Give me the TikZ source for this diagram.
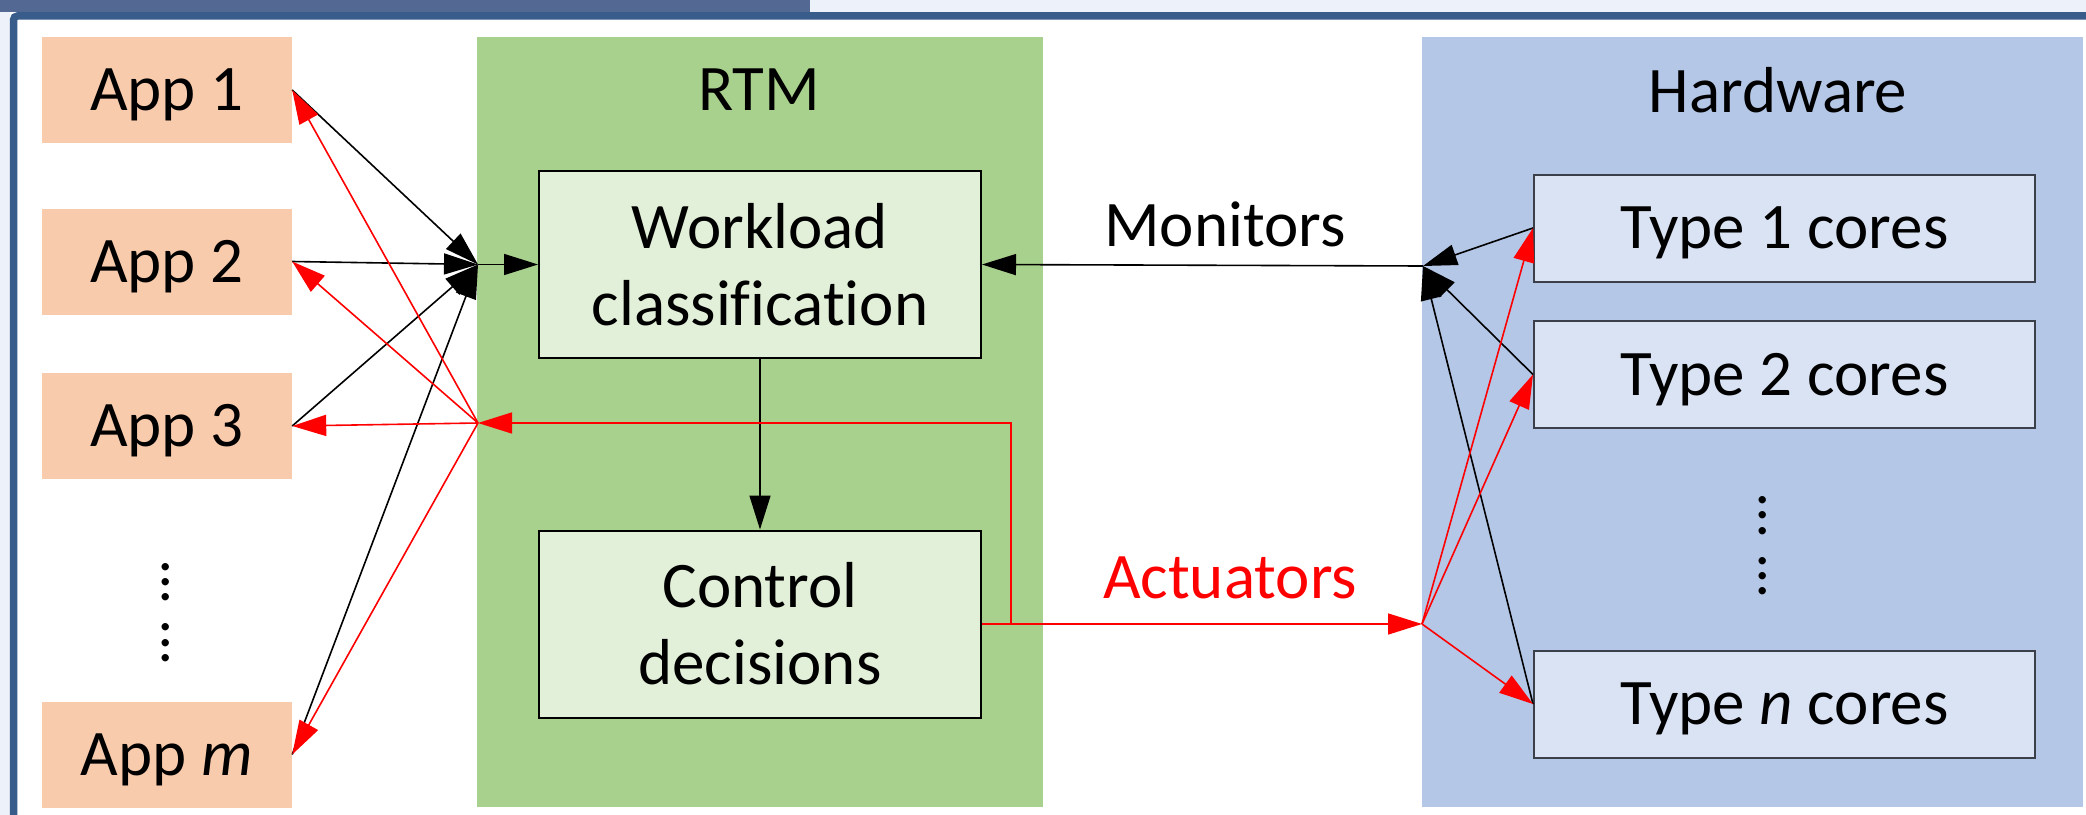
\documentclass[tikz,border=0pt]{standalone}
\usepackage{fontspec}
\setmainfont[Ligatures=NoCommon]{Carlito}
\usetikzlibrary{arrows.meta}
\definecolor{appc}{HTML}{F8CBAD}
\definecolor{rtmc}{HTML}{A9D18E}
\definecolor{rtmin}{HTML}{E2F0D9}
\definecolor{hwc}{HTML}{B4C7E7}
\definecolor{hwin}{HTML}{DAE3F3}
\definecolor{barc}{RGB}{84,104,148}
\definecolor{framec}{RGB}{56,93,138}
\definecolor{lightc}{HTML}{EDF1F9}
\definecolor{redc}{HTML}{FF0000}
\definecolor{coreborder}{HTML}{3A3F4A}
\begin{document}
\begin{tikzpicture}[x=1bp,y=-1bp,
  bigfont/.style={font=\fontsize{65bp}{77bp}\selectfont},
  appbox/.style={fill=appc, draw=none, minimum width=250bp, minimum height=106bp, inner sep=0pt, bigfont, text height=41bp, text depth=0bp},
  innerbox/.style={fill=rtmin, draw=black, line width=2bp, minimum width=442bp, minimum height=187bp, inner sep=0pt, align=center, bigfont},
  corebox/.style={fill=hwin, draw=coreborder, line width=2bp, minimum width=501bp, minimum height=107bp, inner sep=0pt, bigfont, text height=41bp, text depth=0bp},
  lbl/.style={inner sep=0pt, bigfont},
  dotcol/.style={inner sep=0pt, font=\fontsize{61bp}{61bp}\selectfont},
  blk/.style={draw=black, line width=1.6bp, -{Triangle[length=34bp,width=21bp]}},
  rd/.style={draw=redc, line width=1.6bp, -{Triangle[length=34bp,width=21bp]}},
]
\useasboundingbox (0,0) rectangle (2086,815);
% slide background and frame
\fill[white] (0,0) rectangle (2086,815);
\fill[lightc] (0,0) rectangle (2086,12);
\fill[barc] (0,0) rectangle (810,12);
\fill[lightc] (0,12) rectangle (10,815);
\draw[framec, line width=7.5bp, rounded corners=4bp] (13.5,830) |- (2100,16);

% panels
\node[fill=rtmc, minimum width=566bp, minimum height=770bp, inner sep=0pt] (rtm) at (760,422) {};
\node[fill=hwc, minimum width=661bp, minimum height=770bp, inner sep=0pt] (hw) at (1752.5,422) {};
\node[lbl] (rtmlabel) at (759,90) {RTM};
\node[lbl] (hwlabel) at (1778,90) {Hardware};

% apps
\node[appbox] (a1) at (167,90) {App 1};
\node[appbox] (a2) at (167,261.5) {App 2};
\node[appbox] (a3) at (167,426) {App 3};
\node[appbox] (am) at (167,754.5) {App \textit{m}};
\node[dotcol] (adots) at (166,612.5) {\rotatebox{-90}{...\kern14.6bp...}};

% RTM blocks
\node[innerbox] (wl) at (760,264.5) {Workload\\classification};
\node[innerbox] (cd) at (760,624) {Control\\decisions};

% cores
\node[corebox] (t1) at (1784.5,228) {Type 1 cores};
\node[corebox] (t2) at (1784.5,374.5) {Type 2 cores};
\node[corebox] (tn) at (1784.5,704) {Type \textit{n} cores};
\node[dotcol] (cdots) at (1763,546) {\rotatebox{-90}{...\kern14.6bp...}};

% junctions
\coordinate (J1) at (478,264.5);
\coordinate (J2) at (478,423);
\coordinate (J3) at (1422,624);
\coordinate (J4) at (1423,266);
\coordinate (F) at (1011,624);

% app inputs (black)
\draw[blk] (a1.east) -- (J1);
\draw[blk] (a2.east) -- (J1);
\draw[blk] (a3.east) -- (J1);
\draw[blk] (am.east) -- (J1);
\draw[blk] (J1) -- (wl.west);

% app actuation (red)
\draw[rd] (J2) -- (a1.east);
\draw[rd] (J2) -- (a2.east);
\draw[rd] (J2) -- (a3.east);
\draw[rd] (J2) -- (am.east);

% internal
\draw[blk] (wl.south) -- (cd.north);

% monitors
\draw[blk] (t1.west) -- (J4);
\draw[blk] (t2.west) -- (J4);
\draw[blk] (tn.west) -- (J4);
\draw[blk] (J4) -- (wl.east);
\node[lbl] (mon) at (1225,224) {Monitors};

% actuators
\draw[rd] (cd.east) -- (J3);
\draw[rd] (F) |- (J2);
\draw[rd] (J3) -- (t1.west);
\draw[rd] (J3) -- (t2.west);
\draw[rd] (J3) -- (tn.west);
\node[lbl, text=redc] (act) at (1230,578) {Actuators};
\end{tikzpicture}
\end{document}
